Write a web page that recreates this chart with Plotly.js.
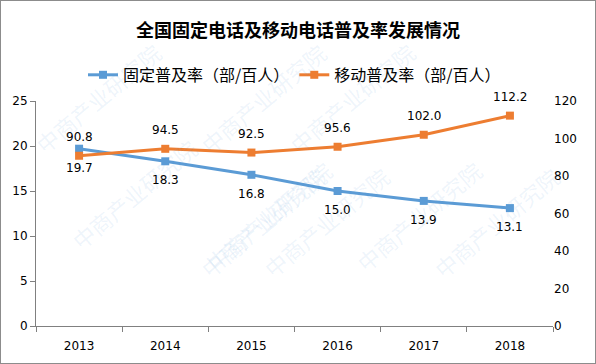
<!DOCTYPE html>
<html><head><meta charset="utf-8">
<script src="https://cdn.plot.ly/plotly-3.0.1.min.js"></script>
<style>html,body{margin:0;padding:0;background:#fff}#c{width:596px;height:364px;box-sizing:border-box;border:1px solid #8c8c8c}</style>
</head><body><div id="c"></div>
<script>
const years = ['2013','2014','2015','2016','2017','2018'];
const fixedRate = [19.7, 18.3, 16.8, 15.0, 13.9, 13.1];
const mobileRate = [90.8, 94.5, 92.5, 95.6, 102.0, 112.2];
const fixedName = '固定普及率（部/百人）';
const mobileName = '移动普及率（部/百人）';
const titleText = '全国固定电话及移动电话普及率发展情况';
const watermark = '中商产业研究院';

const F = '"Noto Sans CJK SC", sans-serif';
const N = '"DejaVu Sans", sans-serif';
const blue = '#5B9BD5', orange = '#ED7D31';

const traces = [
  {x: years, y: fixedRate, name: fixedName, type: 'scatter', mode: 'lines+markers',
   line: {color: blue, width: 3}, marker: {symbol: 'square', size: 8, color: blue}, yaxis: 'y'},
  {x: years, y: mobileRate, name: mobileName, type: 'scatter', mode: 'lines+markers',
   line: {color: orange, width: 3}, marker: {symbol: 'square', size: 8, color: orange}, yaxis: 'y2'}
];

const labels = [];
years.forEach((yr, i) => {
  labels.push({x: i, y: fixedRate[i], xref: 'x', yref: 'y', text: fixedRate[i].toFixed(1),
    showarrow: false, yshift: -19, yanchor: 'middle', font: {family: N, size: 12, color: '#000'}});
  labels.push({x: i, y: mobileRate[i], xref: 'x', yref: 'y2', text: mobileRate[i].toFixed(1),
    showarrow: false, yshift: 19, yanchor: 'middle', font: {family: N, size: 12, color: '#000'}});
});

const wmPos = [[-0.02,1.3],[0.3,1.3],[0.75,1.3],[0.3,0.75],[0.7,0.75],[1.03,0.75],[0.05,0.3],[0.45,0.2],[0.88,0.2]];
const wm = wmPos.map(p => ({xref:'paper', yref:'paper', x:p[0], y:p[1], text: watermark, showarrow:false,
  textangle:-40, font:{family:F, size:22, color:'rgba(91,155,213,0.10)'}}));

const layout = {
  width: 594, height: 362,
  margin: {l: 35, r: 42, t: 100, b: 37},
  paper_bgcolor: '#fff', plot_bgcolor: 'rgba(0,0,0,0)',
  font: {family: F, size: 12, color: '#000'},
  title: {text: '<b>' + titleText + '</b>', x: 0.5, xanchor: 'center', y: 0.918, yanchor: 'middle',
          font: {family: F, size: 18, color: '#000'}},
  showlegend: true,
  legend: {orientation: 'h', x: 0.5, xanchor: 'center', y: 1.116, yanchor: 'middle',
           font: {family: F, size: 16, color: '#000'}, tracegroupgap: 0},
  xaxis: {type: 'category', categoryorder: 'array', categoryarray: years, range: [-0.5, years.length - 0.5],
          showline: true, linecolor: '#808080', linewidth: 1,
          ticks: 'outside', tickson: 'boundaries', ticklen: 5, tickcolor: '#808080', ticklabelstandoff: 9,
          showgrid: false, zeroline: false, tickfont: {family: N, size: 12, color: '#000'}},
  yaxis: {range: [0, 25], dtick: 5, showline: true, linecolor: '#808080', linewidth: 1,
          ticks: 'outside', ticklen: 5, tickcolor: '#808080', showgrid: false, zeroline: false,
          tickfont: {family: N, size: 12, color: '#000'}},
  yaxis2: {range: [0, 120], dtick: 20, overlaying: 'y', side: 'right', showline: false,
           showgrid: false, zeroline: false, ticks: '', tickfont: {family: N, size: 12, color: '#000'}},
  annotations: wm.concat(labels)
};
Plotly.newPlot('c', traces, layout, {displayModeBar: false, staticPlot: true});
</script></body></html>
